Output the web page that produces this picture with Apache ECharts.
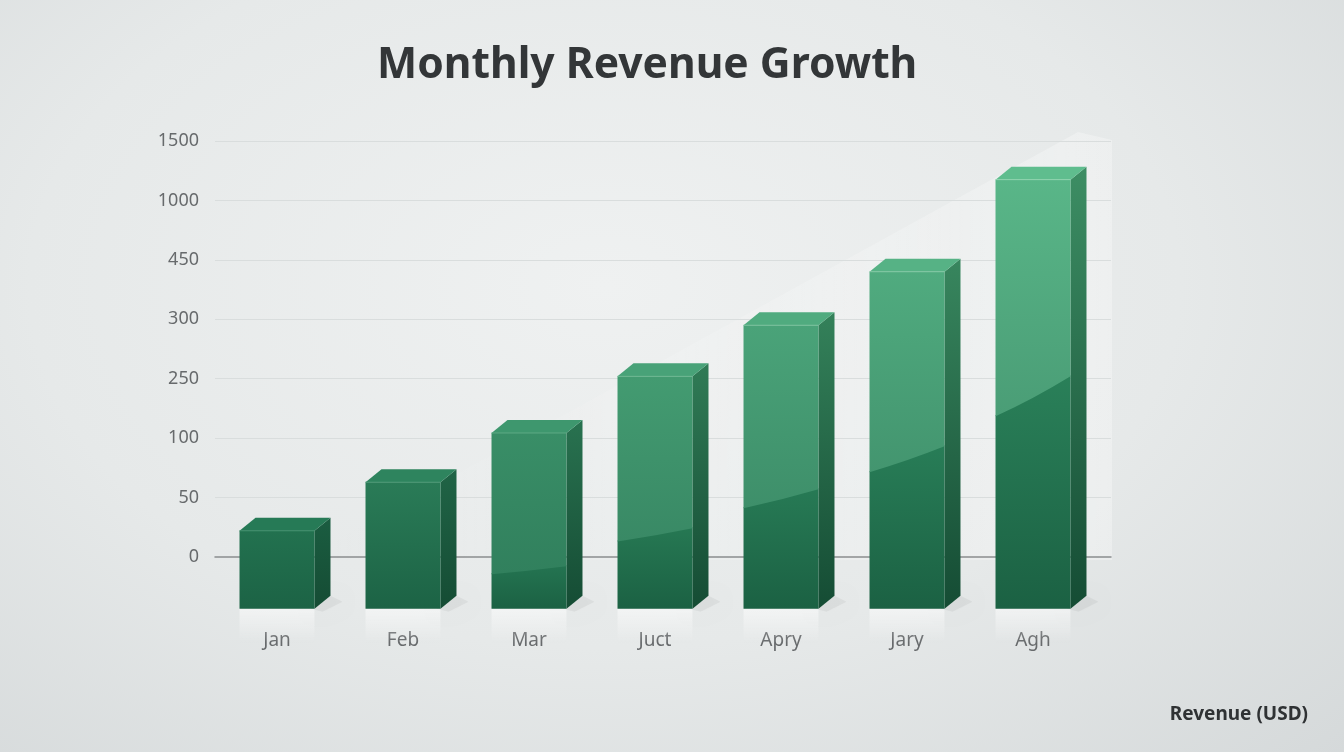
<!DOCTYPE html>
<html>
<head>
<meta charset="utf-8">
<title>Monthly Revenue Growth</title>
<script src="https://cdn.jsdelivr.net/npm/echarts@6/dist/echarts.min.js"></script>
<style>
html, body { margin: 0; padding: 0; }
#main {
    width: 1344px;
    height: 752px;
    background: radial-gradient(ellipse at 45% 38%, #eff1f1 0%, #e6e9e9 55%, #d5d9da 100%);
}
</style>
</head>
<body>
<div id="main"></div>
<script>
// data
const months = ['Jan', 'Feb', 'Mar', 'Juct', 'Apry', 'Jary', 'Agh']
const revenue = [22, 63, 113, 252, 295, 420, 1175]
const tickLabels = [0, 50, 100, 250, 300, 450, 1000, 1500]

// bars start a bit below the zero line (in axis slots)
const BASE_SLOT = -0.87
const DEPTH_X = 16
const DEPTH_Y = 13

// ticks are evenly spaced but the labels are not, so a value goes to its slot
const toSlot = function(v) {
    for (let i = 1; i < tickLabels.length; i++) {
        const lo = tickLabels[i - 1]
        const hi = tickLabels[i]
        if (v <= hi) {
            return i - 1 + (v - lo) / (hi - lo)
        }
    }
    return tickLabels.length - 1
}

const clamp = function(v) {
    return Math.max(0, Math.min(1, v))
}

const hex = function(c) {
    return [1, 3, 5].map(k => parseInt(c.slice(k, k + 2), 16))
}

const mix = function(a, b, t) {
    const ca = hex(a)
    const cb = hex(b)
    const m = ca.map((v, k) => Math.round(v + (cb[k] - v) * t))
    return 'rgb(' + m.join(',') + ')'
}

const vGrad = function(c1, c2) {
    return new echarts.graphic.LinearGradient(0, 0, 0, 1, [
        { offset: 0, color: c1 },
        { offset: 1, color: c2 },
    ])
}

const renderBar = function(params, api) {
    const i = api.value(0)
    const top = api.coord([i, api.value(1)])
    const base = api.coord([i, BASE_SLOT])
    const full = base[1] - api.coord([i, tickLabels.length - 1])[1]
    const w = api.size([1, 0])[0] * 0.595
    const x0 = top[0] - w / 2
    const x1 = x0 + w
    const yt = top[1]
    const yb = base[1]
    const h = yb - yt
    const r = h / full
    const t = Math.sqrt(clamp((r - 0.256) / 0.66))

    const children = [
        {
            // soft floor shadow
            type: 'polygon',
            shape: {
                points: [[x1 - 4, yb], [x1 + DEPTH_X, yb - DEPTH_Y], [x1 + DEPTH_X + 12, yb - DEPTH_Y + 6], [x1 + 8, yb + 3]],
            },
            style: { fill: 'rgba(0,0,0,0.05)', shadowBlur: 14, shadowColor: 'rgba(0,0,0,0.22)' },
            silent: true,
        },
        {
            // reflection under the bar
            type: 'rect',
            shape: { x: x0, y: yb, width: w, height: 34 },
            style: { fill: vGrad('rgba(255,255,255,0.5)', 'rgba(255,255,255,0)') },
            silent: true,
        },
        {
            type: 'polygon',
            shape: {
                points: [[x1, yt], [x1 + DEPTH_X, yt - DEPTH_Y], [x1 + DEPTH_X, yb - DEPTH_Y], [x1, yb]],
            },
            style: { fill: vGrad(mix('#1b5d41', '#3d8e64', t), '#154c34') },
        },
    ]

    if (t < 0.2) {
        children.push({
            type: 'rect',
            shape: { x: x0, y: yt, width: w, height: h },
            style: { fill: vGrad(mix('#22714f', '#59b688', t), '#1c6345') },
        })
    } else {
        // gloss boundary across the front face
        const frac = 0.5 - 0.72 * (1 - r) * (1 - r)
        const yMid = yb - frac * h
        const s = 20 * Math.pow(r / 0.917, 1.8)
        const yL = yMid + s
        const yR = yMid - s
        const cx = (x0 + x1) / 2
        const cy = yMid + s * 0.15
        const upper = 'M' + x0 + ' ' + yt + ' L' + x1 + ' ' + yt + ' L' + x1 + ' ' + yR +
            ' Q' + cx + ' ' + cy + ' ' + x0 + ' ' + yL + ' Z'
        const lower = 'M' + x0 + ' ' + (yL - 1) + ' Q' + cx + ' ' + (cy - 1) + ' ' + x1 + ' ' + (yR - 1) +
            ' L' + x1 + ' ' + yb + ' L' + x0 + ' ' + yb + ' Z'
        children.push({
            type: 'path',
            shape: { pathData: lower },
            style: { fill: vGrad(mix('#1f6b4b', '#2a8059', t), '#1b6143') },
        })
        children.push({
            type: 'path',
            shape: { pathData: upper },
            style: { fill: vGrad(mix('#22714f', '#59b688', t), mix('#1f6b4b', '#4a9d76', t)) },
        })
    }

    children.push({
        type: 'polygon',
        shape: {
            points: [[x0, yt], [x0 + DEPTH_X, yt - DEPTH_Y], [x1 + DEPTH_X, yt - DEPTH_Y], [x1, yt]],
        },
        style: { fill: mix('#267a56', '#5fbd8e', t) },
    })
    children.push({
        type: 'line',
        shape: { x1: x0, y1: yt, x2: x1, y2: yt },
        style: { stroke: mix('#3a8a66', '#8fd3ae', t), lineWidth: 1 },
    })

    return { type: 'group', children: children }
}

const chartOption = function() {
    const slotData = revenue.map((v, i) => [i, toSlot(v)])
    const maxSlot = tickLabels.length - 1
    const gridTop = 141
    const gridHeight = 59.43 * (maxSlot + 1)
    const lineColors = tickLabels.map((v, i) => (i === 0 ? 'rgba(0,0,0,0)' : '#d9dddd'))
    lineColors.unshift('rgba(0,0,0,0)')

    return {
        textStyle: { fontFamily: 'Noto Sans' },
        title: [
            {
                text: 'Monthly Revenue Growth',
                left: 372,
                top: 39,
                textStyle: { fontSize: 42.6, fontWeight: 'bold', color: '#333638' },
            },
            {
                text: 'Revenue (USD)',
                right: 31,
                top: 700,
                textStyle: { fontSize: 19, fontWeight: 'bold', color: '#2f3234' },
            },
        ],
        graphic: [
            {
                // faint diagonal light behind the bars
                type: 'polygon',
                z: -1,
                silent: true,
                shape: { points: [[300, 560], [1078, 132], [1112, 140], [1112, 560]] },
                style: {
                    fill: new echarts.graphic.LinearGradient(0, 0, 1, 0, [
                        { offset: 0, color: 'rgba(255,255,255,0.0)' },
                        { offset: 1, color: 'rgba(255,255,255,0.3)' },
                    ]),
                },
            },
        ],
        grid: [
            { left: 215, right: 233, top: gridTop, height: gridHeight },
            { left: 214, width: 882, top: gridTop, height: gridHeight },
        ],
        xAxis: [
            {
                gridIndex: 0,
                type: 'value',
                min: 0,
                max: 1,
                axisLine: { show: true, onZero: true, lineStyle: { color: '#8a8d8f', width: 1.5 } },
                axisTick: { show: false },
                axisLabel: { show: false },
                splitLine: { show: false },
            },
            {
                gridIndex: 1,
                type: 'category',
                data: months,
                axisLine: { show: false },
                axisTick: { show: false },
                axisLabel: { color: '#676a6c', fontSize: 19, margin: 15 },
            },
        ],
        yAxis: [
            {
                gridIndex: 0,
                type: 'value',
                min: -1,
                max: maxSlot,
                interval: 1,
                axisLine: { show: false },
                axisTick: { show: false },
                axisLabel: {
                    color: '#676a6c',
                    fontSize: 18,
                    margin: 16,
                    formatter: v => (v < 0 ? '' : String(tickLabels[v])),
                },
                splitLine: { lineStyle: { color: lineColors, width: 1 } },
            },
            {
                gridIndex: 1,
                type: 'value',
                min: -1,
                max: maxSlot,
                interval: 1,
                show: false,
            },
        ],
        series: [
            {
                type: 'custom',
                name: 'Revenue',
                xAxisIndex: 1,
                yAxisIndex: 1,
                renderItem: renderBar,
                data: slotData,
                z: 3,
            },
        ],
    }
}

const __main = function() {
    const chart = echarts.init(document.getElementById('main'))
    chart.setOption(chartOption())
}

__main()
</script>
</body>
</html>
